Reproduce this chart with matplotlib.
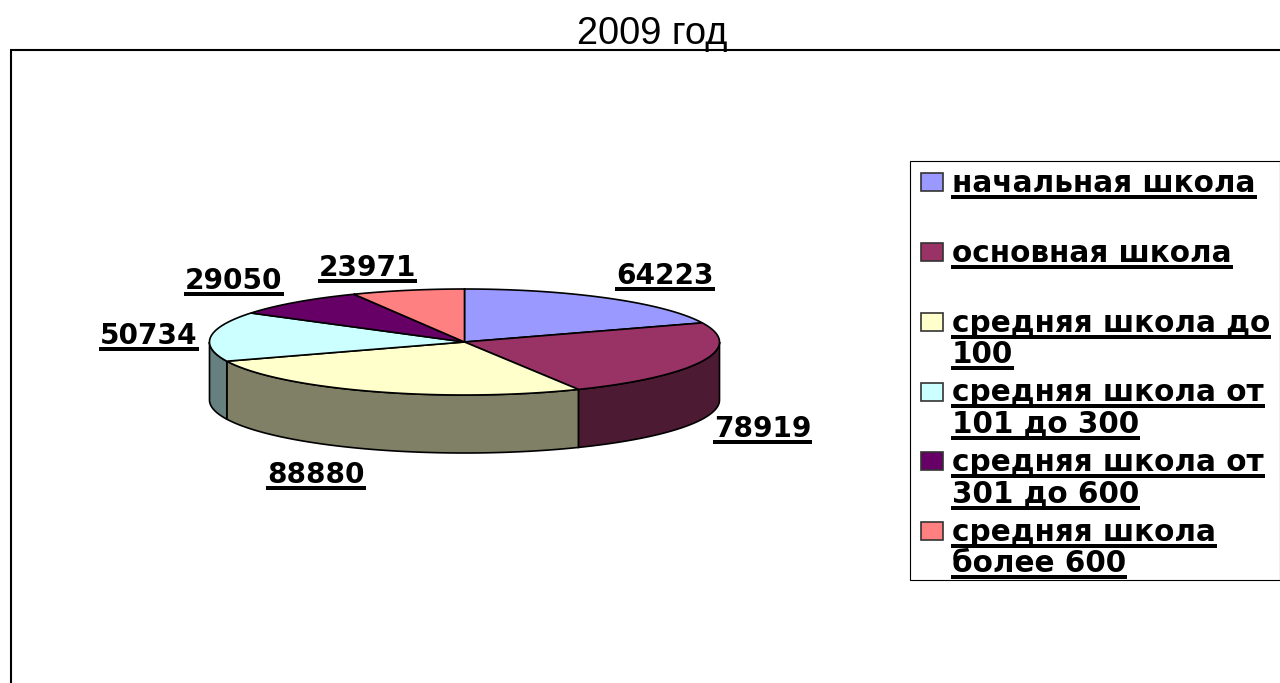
import numpy as np
import matplotlib
matplotlib.use("Agg")
import matplotlib.pyplot as plt
from matplotlib.patches import Polygon, Rectangle

title = "2009 год"
categories = ["начальная школа", "основная школа", "средняя школа до\n100",
              "средняя школа от\n101 до 300", "средняя школа от\n301 до 600",
              "средняя школа\nболее 600"]
values = [64223, 78919, 88880, 50734, 29050, 23971]
colors = ["#9999FF", "#993366", "#FFFFCC", "#CCFFFF", "#660066", "#FF8080"]
side_colors = ["#4D1A33", "#4D1A33", "#808066", "#668080", "#330033", "#804040"]

# left edge and baseline of every value label, pixels
label_pos = [(616, 284), (714, 437), (267, 483), (100, 344), (185, 289), (319, 276)]
legend_baselines = [[192], [262], [332, 363], [401, 433], [471, 503], [541, 572]]
swatch_tops = [173, 243, 313, 383, 452, 522]

PX = 0.72  # font px -> pt at dpi 100
cx, cy, rx, ry, depth = 464.5, 342, 255, 53, 58

fig = plt.figure(figsize=(12.8, 6.83), dpi=100)
ax = fig.add_axes([0, 0, 1, 1])
ax.set_xlim(0, 1280)
ax.set_ylim(683, 0)
ax.axis("off")
renderer = fig.canvas.get_renderer()


def underlined(x, y, s, size):
    t = ax.text(x, y, s, fontsize=size * PX, fontweight="bold", family="DejaVu Sans",
                ha="left", va="baseline", color="black", zorder=6)
    box = t.get_window_extent(renderer)
    ax.add_patch(Rectangle((box.x0 - 1, y + 2.5), box.width + 2, 4, fc="black", ec="none", zorder=6))


def arc(t0, t1):
    t = np.radians(np.linspace(t0, t1, 80))
    return cx + rx * np.sin(t), cy - ry * np.cos(t)


# frame and title
ax.plot([11, 11, 1280], [683, 50, 50], color="black", lw=1.5, solid_joinstyle="miter")
ax.text(652, 44, title, fontsize=38 * PX, family="Liberation Sans", ha="center", va="baseline")

# slices, clockwise from 12 o'clock
edges = np.cumsum([0] + values) / sum(values) * 360

for i in range(len(values)):
    t0 = max(edges[i], 90)
    t1 = min(edges[i + 1], 270)
    if t1 > t0:
        x, y = arc(t0, t1)
        wall = np.r_[np.c_[x, y], np.c_[x[::-1], y[::-1] + depth]]
        ax.add_patch(Polygon(wall, fc=side_colors[i], ec="black", lw=1.2, zorder=2))

for i in range(len(values)):
    x, y = arc(edges[i], edges[i + 1])
    top = np.r_[[[cx, cy]], np.c_[x, y]]
    ax.add_patch(Polygon(top, fc=colors[i], ec="black", lw=1.2, zorder=3))

for (x, y), v in zip(label_pos, values):
    underlined(x, y, str(v), 28)

# legend
ax.add_patch(Rectangle((910, 161), 370, 419, fc="white", ec="black", lw=0.8, zorder=4))
for i, name in enumerate(categories):
    ax.add_patch(Rectangle((920.5, swatch_tops[i]), 22, 18, fc=colors[i], ec="#333333", lw=1.2, zorder=5))
    for line, base in zip(name.split("\n"), legend_baselines[i]):
        underlined(952, base, line, 29.5)

fig.savefig("out.png", dpi=100)
